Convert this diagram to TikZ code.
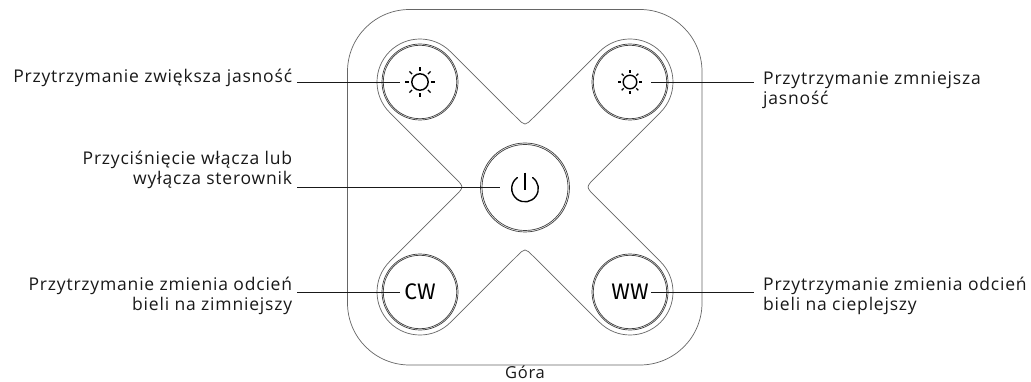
\documentclass[tikz,border=0pt]{standalone}
\usepackage{fontspec}
\usetikzlibrary{calc}
\setmainfont[LetterSpace=4.6]{Open Sans}
\newfontfamily\btnfont{Fira Sans}
\tikzset{
  lab/.style={inner sep=0pt,font=\fontsize{17.5}{20}\selectfont,text=black!90},
  labL/.style={lab,align=right,anchor=base east},
  labR/.style={lab,align=left,anchor=base west},
  outline/.style={draw=black!60,line width=0.7pt},
  ring/.style={draw=black!75,line width=0.7pt},
  leader/.style={draw=black!90,line width=0.9pt},
  icon/.style={draw=black,line width=1.4pt},
  btn/.style={circle,draw=black!75,line width=0.7pt,minimum size=#1,inner sep=0pt,font=\btnfont\fontsize{22.5}{24}\selectfont}
}
\begin{document}
\begin{tikzpicture}[x=1pt,y=1pt]
\useasboundingbox (0,0) rectangle (1031,-382);
\fill[white] (0,0) rectangle (1031,-382);
\draw[outline,rounded corners=62pt] (347.5,-9.5) rectangle (702,-365);
\draw[outline] (450.4,-51.6) arc[start angle=45,end angle=225,radius=43]
  -- (455,-177.8) .. controls (464.2,-187) .. (455,-196.2)
  -- (389.6,-261.6) arc[start angle=135,end angle=315,radius=43]
  -- (517,-256) .. controls (525,-248) .. (533,-256)
  -- (599.6,-322.4) arc[start angle=225,end angle=405,radius=43]
  -- (595,-196.2) .. controls (585.8,-187) .. (595,-177.8)
  -- (660.4,-112.4) arc[start angle=-45,end angle=135,radius=43]
  -- (533,-118) .. controls (525,-126) .. (517,-118) -- cycle;
\node[btn=73.4pt] (tl) at (420,-82) {};
\node[btn=73.4pt] (tr) at (630,-82) {};
\node[btn=86pt] (pw) at (525,-187.5) {};
\node[btn=73.4pt] (cw) at (420,-292) {CW};
\node[btn=73.4pt] (ww) at (630,-292) {WW};
\foreach \n/\d in {tl/76,tr/76,pw/89,cw/76,ww/76}
  \draw[ring] (\n) circle[radius=\d pt/2];
% suns
\draw[icon] (tl) circle[radius=8.2];
\foreach \a in {0,45,...,315} \draw[icon] ($(tl)+(\a:11.2)$) -- ($(tl)+(\a:15)$);
\draw[icon] (tr) circle[radius=6.8];
\foreach \a in {0,45,...,315} \draw[icon] ($(tr)+(\a:9)$) -- ($(tr)+(\a:11.7)$);
% power
\draw[icon,line cap=round] (525,-188.5) ++(55:13.3) arc[start angle=55,end angle=-235,radius=13.3];
\draw[icon] (525,-172.7) -- (525,-190);
% labels
\node[labL] (a) at (292.3,-83) {Przytrzymanie zwiększa jasność};
\node[labL] (b) at (292.3,-185) {Przyciśnięcie włącza lub\\wyłącza sterownik};
\node[labL] (c) at (292.3,-310) {Przytrzymanie zmienia odcień\\bieli na zimniejszy};
\node[labR] (d) at (763,-105) {Przytrzymanie zmniejsza\\jasność};
\node[labR] (e) at (763,-310) {Przytrzymanie zmienia odcień\\bieli na cieplejszy};
\node[lab,anchor=base,font=\fontsize{16.5}{20}\selectfont] (f) at (525,-378.5) {Góra};
\coordinate (a1) at (297,-82.3);\coordinate (a2) at (400,-82.3);
\coordinate (b1) at (297,-187.5);\coordinate (b2) at (500,-187.5);
\coordinate (c1) at (297,-292.3);\coordinate (c2) at (400,-292.3);
\coordinate (d1) at (651,-82.3);\coordinate (d2) at (754,-82.3);
\coordinate (e1) at (651,-292.3);\coordinate (e2) at (754,-292.3);
\foreach \p/\q in {a1/a2,b1/b2,c1/c2,d1/d2,e1/e2} \draw[leader] (\p) -- (\q);
\end{tikzpicture}
\end{document}
